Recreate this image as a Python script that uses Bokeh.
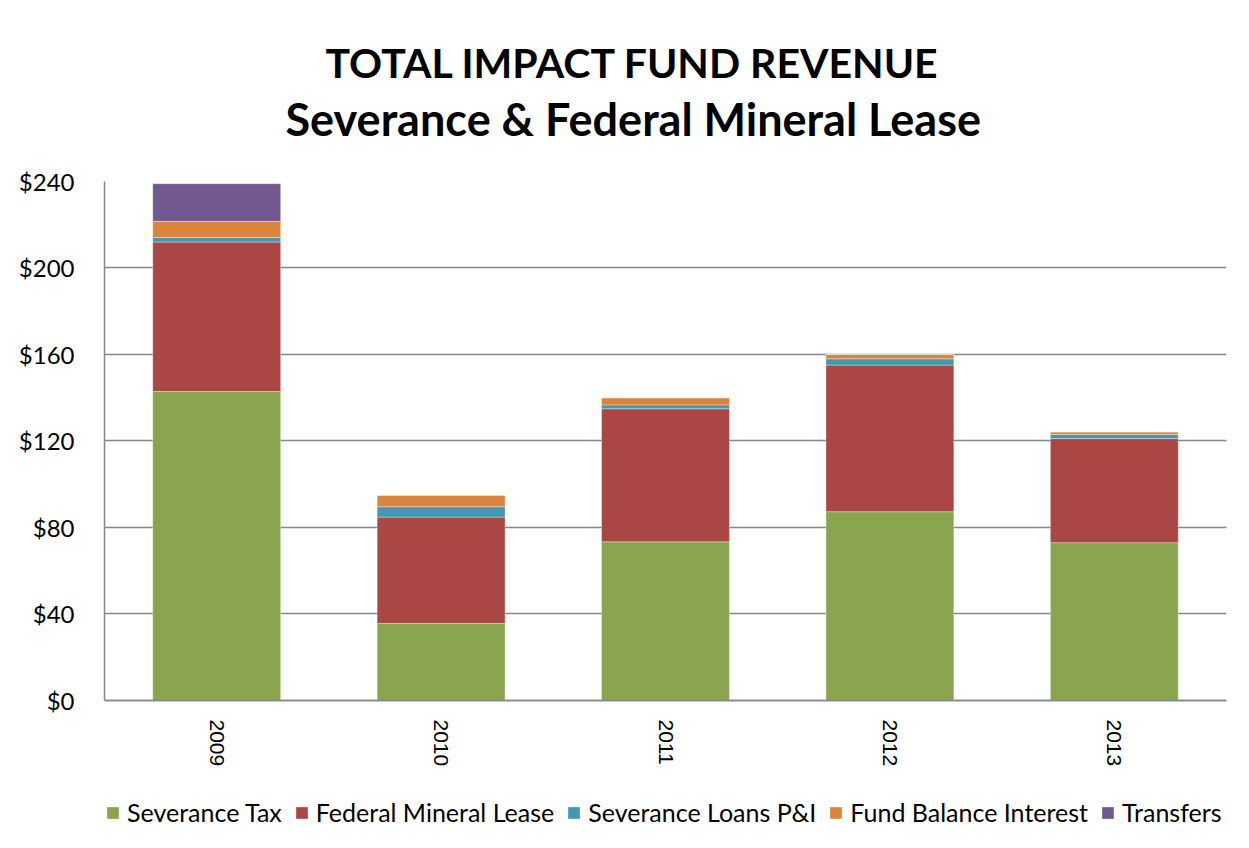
from bokeh.plotting import figure
from bokeh.models import (Title, Legend, LegendItem, NumeralTickFormatter,
                          FixedTicker, ColumnDataSource)
from bokeh.embed import file_html
from bokeh.resources import INLINE

years = ["2009", "2010", "2011", "2012", "2013"]
severance_tax = [142.9, 35.6, 73.4, 87.3, 73.0]
federal_mineral_lease = [69.1, 49.2, 61.5, 67.8, 48.1]
severance_loans = [2.1, 4.8, 1.8, 2.9, 1.9]
fund_balance_interest = [7.5, 5.3, 3.3, 2.0, 1.2]
transfers = [17.4, 0.0, 0.0, 0.0, 0.0]

series_keys = ["sev", "fml", "loans", "fbi", "tr"]
series_names = ["Severance Tax", "Federal Mineral Lease", "Severance Loans P&I",
                "Fund Balance Interest", "Transfers"]
colors = ["#89A54E", "#AA4643", "#4198AF", "#DB843D", "#71588F"]
y_ticks = [0, 40, 80, 120, 160, 200, 240]

source = ColumnDataSource(dict(
    year=years, sev=severance_tax, fml=federal_mineral_lease,
    loans=severance_loans, fbi=fund_balance_interest, tr=transfers))

# the frame extends below $0 so the category labels and legend sit inside it
p = figure(frame_width=1122, frame_height=659, x_range=years,
           y_range=(-64.74, 240),
           output_backend="svg", toolbar_location=None,
           min_border_left=104, min_border_right=23,
           min_border_top=181, min_border_bottom=0)
p.outline_line_color = None
p.background_fill_color = "white"
p.border_fill_color = "white"

renderers = p.vbar_stack(series_keys, x="year", width=0.57, color=colors,
                         source=source, line_color="white", line_alpha=0.35,
                         line_width=1)

# axes
p.yaxis.ticker = FixedTicker(ticks=y_ticks)
p.yaxis.bounds = (0, 240)
p.yaxis.formatter = NumeralTickFormatter(format="$0")
p.yaxis.major_label_text_font = "Lato"
p.yaxis.major_label_text_font_size = "24px"
p.yaxis.major_label_text_color = "black"
p.yaxis.major_label_standoff = 24
p.yaxis.major_tick_line_color = None
p.yaxis.minor_tick_line_color = None
p.yaxis.axis_line_color = "#868686"
p.yaxis.axis_line_width = 1.5

p.xaxis.fixed_location = 0
p.xaxis.major_label_orientation = "vertical"
p.xaxis.major_label_text_font = "Liberation Sans"
p.xaxis.major_label_text_font_size = "21px"
p.xaxis.major_label_text_color = "black"
p.xaxis.major_label_standoff = 19
p.xaxis.major_tick_line_color = None
p.xaxis.major_tick_out = 0
p.xaxis.major_tick_in = 0
p.xaxis.axis_line_color = "#868686"
p.xaxis.axis_line_width = 1.5

p.xgrid.grid_line_color = None
p.ygrid.grid_line_color = "#868686"
p.ygrid.grid_line_width = 1.5

# titles (left aligned with offsets so they are centred as in the reference)
sub = Title(text="Severance & Federal Mineral Lease", align="left",
            text_font="Lato", text_font_size="45px", text_font_style="bold",
            text_color="black", standoff=71, offset=181)
main = Title(text="TOTAL IMPACT FUND REVENUE", align="left",
             text_font="Lato", text_font_size="41px", text_font_style="bold",
             text_color="black", standoff=-64, offset=221)
p.add_layout(sub, "above")
p.add_layout(main, "above")

legend = Legend(items=[LegendItem(label=n, renderers=[r])
                       for n, r in zip(series_names, renderers)],
                orientation="horizontal", location=(1, 13),
                glyph_width=15, glyph_height=15, label_standoff=7,
                spacing=12, padding=0, margin=0,
                border_line_color=None, background_fill_alpha=0,
                label_text_font="Lato", label_text_font_size="25px",
                label_text_color="black")
p.add_layout(legend, "center")

open("out.html", "w").write(file_html(p, INLINE))
